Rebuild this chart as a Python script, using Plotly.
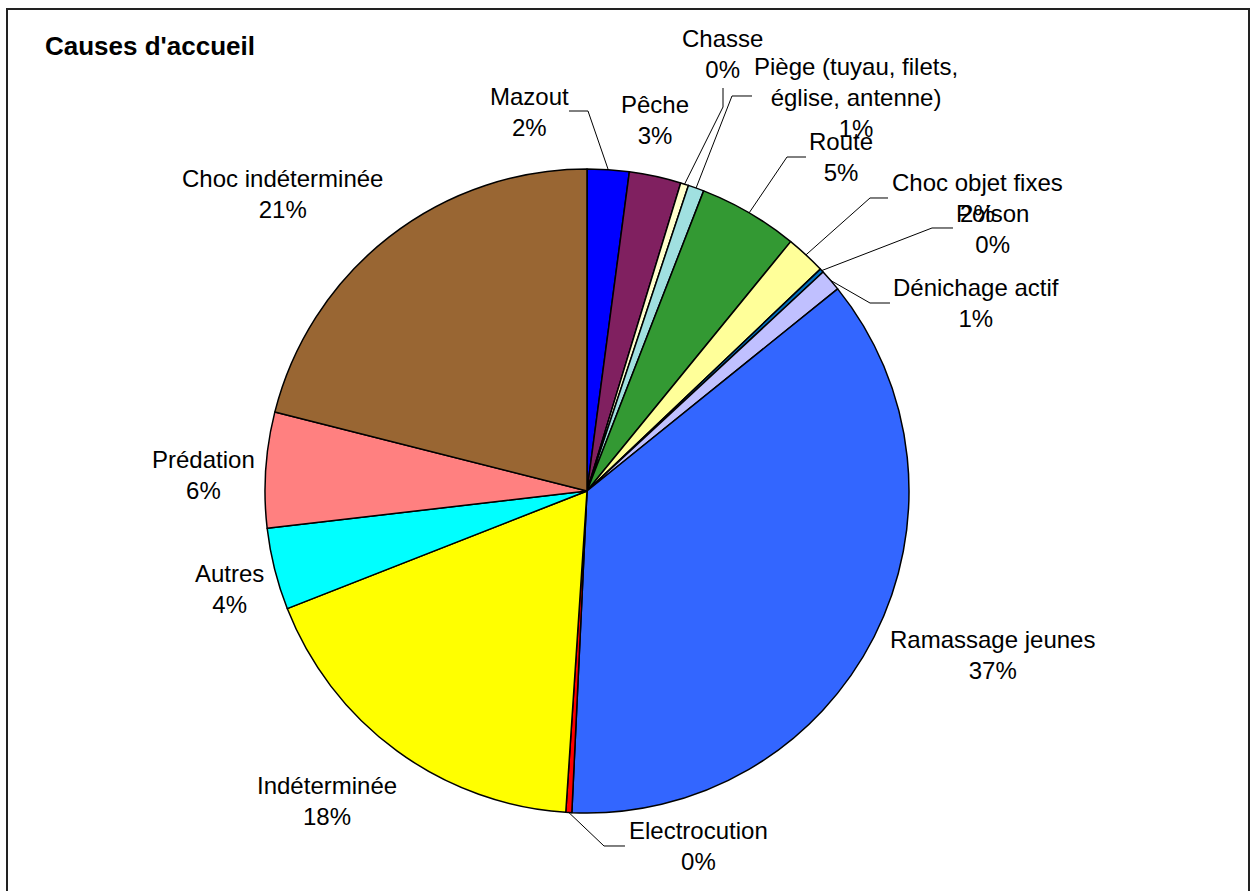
import math
import plotly.graph_objects as go

# ---------------- data ----------------
categories = [
    "Mazout", "Pêche", "Chasse", "Piège (tuyau, filets,<br>église, antenne)",
    "Route", "Choc objet fixes", "Poison", "Dénichage actif",
    "Ramassage jeunes", "Electrocution", "Indéterminée", "Autres",
    "Prédation", "Choc indéterminée",
]
values = [2.1, 2.6, 0.4, 0.8, 5.0, 2.0, 0.2, 1.1, 36.55, 0.3, 18.0, 4.1, 5.8, 21.05]
colors = [
    "#0000FF", "#802060", "#FFFFCC", "#A0E0E0", "#339933", "#FFFF99", "#0070C0",
    "#C0C0FF", "#3366FF", "#FF0000", "#FFFF00", "#00FFFF", "#FF8080", "#996633",
]
title_text = "Causes d'accueil"

# ---------------- layout geometry (pixels) ----------------
W, H = 1252, 891
CX, CY, R = 587, 491, 322

# label block centres (px, from top-left)
label_pos = {
    "Mazout": (529, 112),
    "Pêche": (655, 120),
    "Chasse": (722, 54),
    "Piège (tuyau, filets,<br>église, antenne)": (856, 97),
    "Route": (841, 157),
    "Choc objet fixes": (977, 198),
    "Poison": (992, 229),
    "Dénichage actif": (976, 303),
    "Ramassage jeunes": (993, 655),
    "Electrocution": (699, 846),
    "Indéterminée": (327, 801),
    "Autres": (229, 589),
    "Prédation": (203, 475),
    "Choc indéterminée": (282, 194),
}
# leader lines: elbow then end point (px)
leaders = {
    "Mazout": [(588, 111), (569, 111)],
    "Chasse": [(723, 107), (723, 88)],
    "Piège (tuyau, filets,<br>église, antenne)": [(732, 96), (752, 96)],
    "Route": [(787, 157), (806, 157)],
    "Choc objet fixes": [(870, 198), (888, 198)],
    "Poison": [(932, 228), (953, 228)],
    "Dénichage actif": [(870, 303), (890, 303)],
    "Electrocution": [(604, 846), (625, 846)],
}

def px(x):
    return x / W

def py(y):
    return 1 - y / H

fig = go.Figure(go.Pie(
    labels=categories,
    values=values,
    sort=False,
    direction="clockwise",
    rotation=0,
    textinfo="none",
    marker=dict(colors=colors, line=dict(color="#000000", width=1.5)),
    domain=dict(x=[px(CX - R), px(CX + R)], y=[py(CY + R), py(CY - R)]),
    showlegend=False,
))

total = sum(values)
annotations = []
shapes = []
cum = 0.0
FONT = dict(family="Liberation Sans, Arial, sans-serif", size=24, color="#000000")
for cat, v in zip(categories, values):
    mid = (cum + v / 2) / total * 2 * math.pi
    cum += v
    pct = round(v / total * 100)
    lx, ly = label_pos[cat]
    annotations.append(dict(
        x=px(lx), y=py(ly), xref="paper", yref="paper",
        text=f"{cat}<br>{pct}%", showarrow=False,
        xanchor="center", yanchor="middle", align="center", font=FONT,
    ))
    if cat in leaders:
        ex = CX + R * math.sin(mid)
        ey = CY - R * math.cos(mid)
        pts = [(ex, ey)] + leaders[cat]
        path = "M " + " L ".join(f"{px(a):.5f},{py(b):.5f}" for a, b in pts)
        shapes.append(dict(type="path", path=path, xref="paper", yref="paper",
                           line=dict(color="#000000", width=1)))

annotations.append(dict(
    x=px(43), y=py(46), xref="paper", yref="paper", text=f"<b>{title_text}</b>",
    showarrow=False, xanchor="left", yanchor="middle",
    font=dict(family="Liberation Sans, Arial, sans-serif", size=26, color="#000000"),
))

# chart-area border
shapes.append(dict(type="rect", xref="paper", yref="paper",
                   x0=px(7), x1=px(1249), y0=py(900), y1=py(9),
                   line=dict(color="#222222", width=2)))

fig.update_layout(
    width=W, height=H,
    margin=dict(l=0, r=0, t=0, b=0),
    paper_bgcolor="#FFFFFF",
    plot_bgcolor="#FFFFFF",
    annotations=annotations,
    shapes=shapes,
)

fig.write_html(
    "out.html",
    config={"displayModeBar": False},
    post_script="document.body.style.margin='0px';document.body.style.overflow='hidden';",
)
